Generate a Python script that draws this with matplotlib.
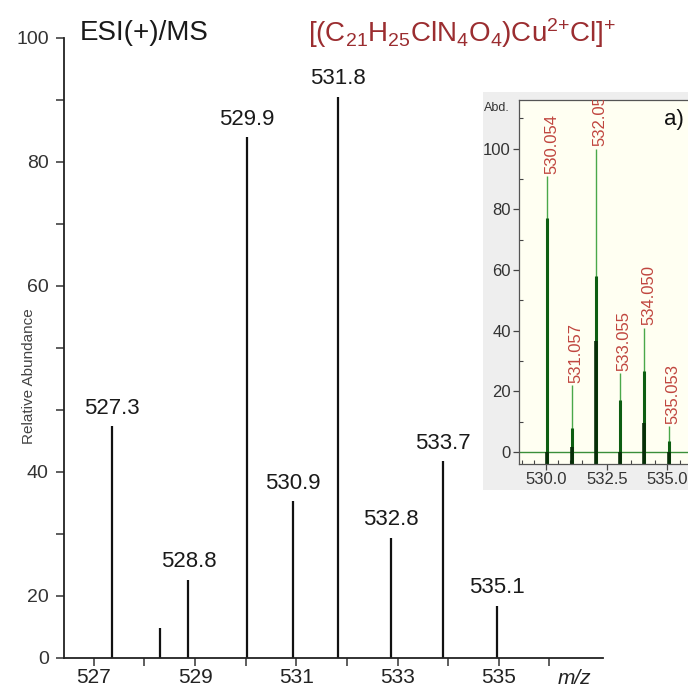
import matplotlib
matplotlib.use("Agg")
import matplotlib.pyplot as plt
from matplotlib.ticker import MultipleLocator

plt.rcParams['font.family'] = ['Liberation Sans', 'DejaVu Sans']
plt.rcParams['mathtext.fontset'] = 'custom'
plt.rcParams['mathtext.rm'] = 'Liberation Sans'
plt.rcParams['mathtext.it'] = 'Liberation Sans:italic'

# main spectrum: peak positions (as drawn on the axis), heights, labels
peak_mz = [527.36, 528.31, 528.87, 530.02, 530.93, 531.83, 532.87, 533.90, 534.97]
peak_abund = [37.4, 4.8, 12.6, 84.0, 25.3, 90.5, 19.4, 31.7, 8.4]
peak_labels = ['527.3', '', '528.8', '529.9', '530.9', '531.8', '532.8', '533.7', '535.1']

# y axis as printed in the original figure (ticks every 10, oddly labelled)
ytick_pos = [0, 10, 20, 30, 40, 50, 60, 70, 80, 90, 100]
ytick_txt = ['0', '20', '', '40', '', '', '60', '', '80', '', '100']
xtick_pos = [527, 528, 529, 530, 531, 532, 533, 534, 535, 536]
xtick_txt = ['527', '', '529', '', '531', '', '533', '', '535', '']

# inset (simulated isotope pattern)
inset_mz = [530.054, 531.057, 532.05, 533.055, 534.050, 535.053]
inset_top = [91, 22, 100, 26, 41, 8.5]
inset_mid = [77, 8, 58, 17, 26.5, 3.5]
inset_low = [0, 1.5, 36.5, 0, 9.5, 0]
inset_labels = ['530.054', '531.057', '532.05', '533.055', '534.050', '535.053']

fig = plt.figure(figsize=(6.88, 6.89), dpi=100)
ax = fig.add_axes([0.093, 0.045, 0.7835, 0.9])

ax.vlines(peak_mz, 0, peak_abund, color='#111111', lw=1.6)
for x, y, t in zip(peak_mz, peak_abund, peak_labels):
    if t:
        ax.annotate(t, (x, y), xytext=(0, 9), textcoords='offset points',
                    ha='center', va='baseline', fontsize=16, color='#1a1a1a')

ax.set_xlim(526.41, 537.06)
ax.set_ylim(0, 100)
ax.set_yticks(ytick_pos)
ax.set_yticklabels(ytick_txt)
ax.set_xticks(xtick_pos)
ax.set_xticklabels(xtick_txt)
ax.tick_params(axis='y', direction='out', length=6, width=1.1, pad=5,
               labelsize=14, labelcolor='#333333', color='#333333')
ax.tick_params(axis='x', direction='out', length=6, width=1.1, pad=1.5,
               labelsize=15, labelcolor='#222222', color='#333333')
for side in ['top', 'right']:
    ax.spines[side].set_visible(False)
for side in ['left', 'bottom']:
    ax.spines[side].set_linewidth(1.3)
    ax.spines[side].set_color('#222222')

ax.text(-0.065, 0.455, 'Relative Abundance', transform=ax.transAxes,
        rotation=90, ha='center', va='center', fontsize=11, color='#444444')
fig.text(574 / 688, 1 - 678 / 689, 'm/z', style='italic', fontsize=15,
         ha='center', va='center', color='#222222')
fig.text(80 / 688, 1 - 33 / 689, 'ESI(+)/MS', fontsize=20, ha='left',
         va='center', color='#1a1a1a')
fig.text(308 / 688, 1 - 33 / 689,
         r'$\mathrm{[(C_{21}H_{25}ClN_{4}O_{4})Cu^{2{+}}Cl]^{+}}$',
         fontsize=20, ha='left', va='center', color='#9b2d30')

# gray panel behind inset
bg = fig.add_axes([483 / 688, 1 - 490 / 689, 205 / 688, 398 / 689])
bg.set_facecolor('#eeeeee')
bg.set_xticks([])
bg.set_yticks([])
for s in bg.spines.values():
    s.set_visible(False)

narrow = ['Liberation Sans Narrow', 'Liberation Sans', 'DejaVu Sans']
ins = fig.add_axes([519 / 688, 1 - 464 / 689, 181 / 688, 364 / 689])
ins.set_facecolor('#fffff2')
ins.set_xlim(528.89, 536.34)
ins.set_ylim(-4, 116)
ins.axhline(0, color='#3a8f3a', lw=1.0)
ins.vlines(inset_mz, -4, inset_top, color='#4aa84a', lw=1.0)
ins.vlines(inset_mz, -4, inset_mid, color='#0d5e12', lw=2.2)
ins.vlines(inset_mz, -4, inset_low, color='#072e08', lw=2.6)
for x, y, t in zip(inset_mz, inset_top, inset_labels):
    ins.annotate(t, (x, y), xytext=(3, 1.5), textcoords='offset points',
                 rotation=90, ha='center', va='bottom', fontsize=12,
                 color='#c0463f', family=narrow, annotation_clip=False,
                 clip_on=True)

ins.set_xticks([530.0, 532.5, 535.0])
ins.set_xticklabels(['530.0', '532.5', '535.0'], family=narrow)
ins.xaxis.set_minor_locator(MultipleLocator(0.5))
ins.set_yticks([0, 20, 40, 60, 80, 100])
ins.set_yticklabels(['0', '20', '40', '60', '80', '100'], family=narrow)
ins.yaxis.set_minor_locator(MultipleLocator(10))
ins.tick_params(which='major', direction='out', length=4, width=0.9,
                labelsize=12, labelcolor='#333333', color='#444444', pad=2)
ins.tick_params(which='minor', direction='in', length=3, width=0.8,
                color='#444444')
for side in ins.spines.values():
    side.set_linewidth(0.9)
    side.set_color('#555555')

fig.text(484 / 688, 1 - 108 / 689, 'Abd.', fontsize=9, family=narrow,
         ha='left', va='center', color='#333333')
fig.text(664 / 688, 1 - 120 / 689, 'a)', fontsize=16, ha='left',
         va='center', color='#111111')

fig.savefig('out.png', dpi=100)
